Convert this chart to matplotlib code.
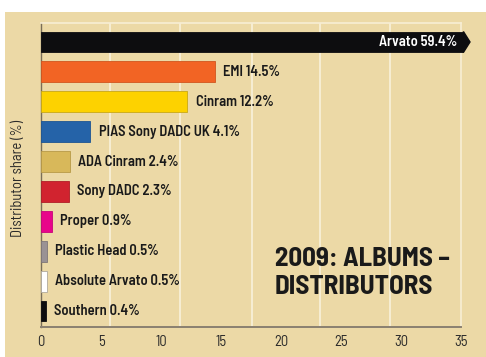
import matplotlib
matplotlib.use("Agg")
import matplotlib.pyplot as plt
from matplotlib.patches import Rectangle, Polygon

distributors = ["Arvato", "EMI", "Cinram", "PIAS Sony DADC UK", "ADA Cinram",
                "Sony DADC", "Proper", "Plastic Head", "Absolute Arvato", "Southern"]
shares = [59.4, 14.5, 12.2, 4.1, 2.4, 2.3, 0.9, 0.5, 0.5, 0.4]
colors = ["#0d0d0f", "#f26424", "#fdd200", "#2563a8", "#d8b85a",
          "#d1232f", "#e8058a", "#9a9294", "#ffffff", "#0d0d0f"]
edges = ["#0d0d0f", "#d0561e", "#c8a818", "#1d5592", "#b89a48",
         "#b01e28", "#c8047a", "#7e7678", "#b0aa9c", "#0d0d0f"]
xticks = [0, 5, 10, 15, 20, 25, 30, 35]
grid_x = [5.75, 11.6, 17.6, 23.25, 29.1]
title = "2009: ALBUMS –\nDISTRIBUTORS"
ylabel = "Distributor share (%)"

BG = "#ecd9a6"
FONT = ["Barlow Semi Condensed", "DejaVu Sans"]

fig = plt.figure(figsize=(4.86, 3.57), dpi=100, facecolor="white")
fig.patches.append(Rectangle((5/486, 0), 1, 1 - 12/357, transform=fig.transFigure,
                             facecolor=BG, edgecolor="none", zorder=-10))
ax = fig.add_axes([41/486, 1 - 327/357, 420/486, 304/357])
ax.set_facecolor(BG)

xmax = 35
ax.set_xlim(0, xmax)
ax.set_ylim(9.535, -0.635)

for gx in grid_x:
    ax.axvline(gx, color="#f7eed4", lw=1.4, zorder=0)

for i, (name, v, c, e) in enumerate(zip(distributors, shares, colors, edges)):
    if v > xmax:
        w = xmax + 0.2
        ax.barh(i, w, height=0.7, color=c, edgecolor=e, lw=0.6, clip_on=False, zorder=3)
        tip = Polygon([[w, i - 0.35], [w + 0.55, i], [w, i + 0.35]], closed=True,
                      facecolor=c, edgecolor=c, clip_on=False, zorder=3)
        ax.add_patch(tip)
        ax.text(w - 0.5, i, f"{name} {v}%", color="white", ha="right", va="center",
                fontsize=10.5, fontweight=600, family=FONT, zorder=4)
    else:
        ax.barh(i, v, height=0.7, color=c, edgecolor=e, lw=0.6, zorder=3)
        ax.text(v + 0.7, i, f"{name} {v}%", color="#1a1a1a", ha="left", va="center",
                fontsize=10.5, fontweight=600, family=FONT, zorder=4)

ax.set_xticks(xticks)
ax.set_xticklabels([str(t) for t in xticks], family=FONT, fontsize=10.5, color="#2a2a2a")
ax.set_yticks([])
ax.tick_params(axis="x", length=0, pad=6)

for s in ["top", "right"]:
    ax.spines[s].set_color("#f7eed4")
    ax.spines[s].set_linewidth(1.2)
ax.spines["left"].set_color("#7a6e58")
ax.spines["left"].set_linewidth(1.0)
ax.spines["bottom"].set_color("#8a8070")
ax.spines["bottom"].set_linewidth(1.4)

fig.text(18/486, 1 - 178/357, ylabel, rotation=90, ha="center", va="center",
         fontsize=10.5, color="#2a2a2a", family=FONT)

ax.text(0.557, 0.178, title, transform=ax.transAxes, ha="left", va="center",
        fontsize=19.5, fontweight="bold", color="#1a1a1a", family=FONT,
        linespacing=1.17, zorder=5)

fig.savefig("out.png", dpi=100, facecolor="white")
